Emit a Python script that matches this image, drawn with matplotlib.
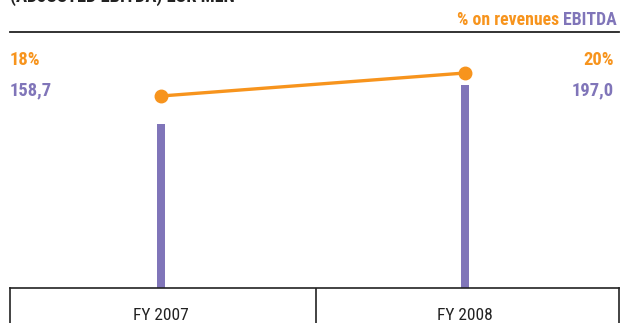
import matplotlib
matplotlib.use("Agg")
import matplotlib.pyplot as plt
from matplotlib import font_manager

# Data
years = ["FY 2007", "FY 2008"]
ebitda = [158.7, 197.0]
ebitda_labels = ["158,7", "197,0"]
margin_pct = [18, 20]
margin_labels = ["18%", "20%"]

ORANGE = "#F7941D"
PURPLE = "#8075B9"
DARK = "#222222"

# Prefer a condensed sans face if one is installed
names = {f.name for f in font_manager.fontManager.ttflist}
condensed = [f.name for f in font_manager.fontManager.ttflist
             if f.stretch in ("condensed", "semi-condensed", "extra-condensed") or "Condensed" in f.name or "Narrow" in f.name]
cands = ["Roboto Condensed", "Liberation Sans Narrow", "DejaVu Sans Condensed", "Open Sans Condensed"] + sorted(set(condensed))
chosen = next((c for c in cands if c in names), None)
narrow = chosen is not None
FAM = [chosen, "DejaVu Sans"] if narrow else ["Liberation Sans", "DejaVu Sans"]
plt.rcParams["font.family"] = FAM

W, H = 620, 323
fig = plt.figure(figsize=(W / 100, H / 100), dpi=100)

def fx(px):
    return px / W

def fy(px_from_top):
    return 1 - px_from_top / H

# Main chart area (bars + line)
left, right, top, base = 10, 619, 32, 288
step = 304  # pixels between the two categories
ax = fig.add_axes([fx(left), fy(base), fx(right - left), (base - top) / H])
x = [0, 1]
ax.bar(x, ebitda, width=8 / step, color=PURPLE, zorder=2)
ax.set_xlim(-(161 - left) / step, (right - 161) / step)
ax.set_ylim(0, (base - top) / 1.032)
for s in ["left", "right", "bottom"]:
    ax.spines[s].set_visible(False)
ax.spines["top"].set_color(DARK)
ax.spines["top"].set_linewidth(1.3)
ax.set_xticks([])
ax.set_yticks([])
ax.patch.set_alpha(0)

ax2 = ax.twinx()
ax2.plot(x, margin_pct, color=ORANGE, lw=2.4, marker="o", ms=9, zorder=3)
ax2.set_ylim(15 / 11.5, (base - top + 15) / 11.5)
ax2.set_xlim(ax.get_xlim())
ax2.axis("off")

vsize = 13.3 if narrow else 11.5
csize = 12.5 if narrow else 10.5

# Category box below the chart
axb = fig.add_axes([fx(left), 0, fx(right - left), (H - base) / H])
axb.set_xlim(ax.get_xlim())
axb.set_ylim(0, 1)
for s in ["left", "right", "top"]:
    axb.spines[s].set_color(DARK)
    axb.spines[s].set_linewidth(1.2)
axb.spines["bottom"].set_visible(False)
axb.axvline((316 - 161) / step, color=DARK, lw=1.2)
axb.set_xticks([])
axb.set_yticks([])
for xi, lab in zip(x, years):
    axb.text(xi, 0.2, lab, ha="center", va="center", fontsize=csize, color=DARK)

# Value labels at the sides
kw = dict(fontsize=vsize, fontweight="bold", va="center")
fig.text(fx(10), fy(60), margin_labels[0], color=ORANGE, ha="left", **kw)
fig.text(fx(10), fy(90), ebitda_labels[0], color=PURPLE, ha="left", **kw)
fig.text(fx(614), fy(60), margin_labels[1], color=ORANGE, ha="right", **kw)
fig.text(fx(614), fy(90), ebitda_labels[1], color=PURPLE, ha="right", **kw)

# Legend text
lkw = dict(kw, fontsize=vsize - 0.5)
t = fig.text(fx(617), fy(20), "EBITDA", color=PURPLE, ha="right", **lkw)
fig.canvas.draw()
bb = t.get_window_extent()
fig.text(bb.x0 / W - 4 / W, fy(20), "% on revenues", color=ORANGE, ha="right", **lkw)

# Title (cut at the top edge)
fig.text(fx(10), fy(1.5), "(ADJUSTED EBITDA) EUR MLN", color=DARK, fontsize=vsize,
         fontweight="bold", ha="left", va="baseline")

fig.savefig("out.png", dpi=100)
